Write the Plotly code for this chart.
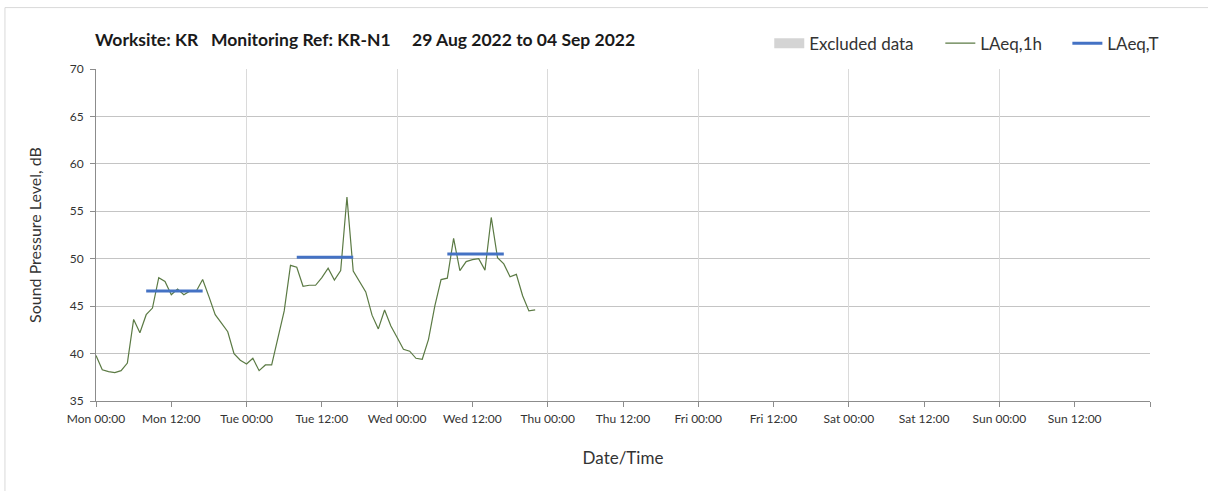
import pandas as pd
import plotly.graph_objects as go

# ---------------- data ----------------
start_time = "2022-08-29 00:00"
laeq_1h = [
    39.8, 38.3, 38.1, 38.0, 38.2, 39.0, 43.6, 42.2, 44.1, 44.8,
    48.0, 47.6, 46.2, 46.8, 46.2, 46.6, 46.6, 47.8, 46.0, 44.1,
    43.2, 42.3, 40.0, 39.3, 38.9, 39.5, 38.2, 38.8, 38.8, 41.5,
    44.5, 49.3, 49.1, 47.1, 47.2, 47.2, 48.0, 49.0, 47.75, 48.75,
    56.5, 48.7, 47.6, 46.5, 44.05, 42.6, 44.6, 42.9, 41.7, 40.45,
    40.25, 39.5, 39.4, 41.5, 45.0, 47.8, 47.95, 52.15, 48.75, 49.7,
    49.9, 50.0, 48.8, 54.35, 50.1, 49.45, 48.1, 48.35, 46.1, 44.5,
    44.6,
]
laeqT_start = ["2022-08-29 08:00", "2022-08-30 08:00", "2022-08-31 08:00"]
laeqT_end = ["2022-08-29 17:00", "2022-08-30 17:00", "2022-08-31 17:00"]
laeqT_values = [46.6, 50.15, 50.5]

x_range = ["2022-08-29 00:00", "2022-09-05 00:00"]
y_range = [35, 70]
y_dtick = 5

title_text = ("Worksite: KR&nbsp;&nbsp;&nbsp;Monitoring Ref: KR-N1"
              "&nbsp;&nbsp;&nbsp;&nbsp;&nbsp;29 Aug 2022 to 04 Sep 2022")

# ---------------- figure ----------------
times_1h = pd.date_range(start_time, periods=len(laeq_1h), freq="h")

tx, ty = [], []
for s, e, v in zip(laeqT_start, laeqT_end, laeqT_values):
    tx += [pd.Timestamp(s), pd.Timestamp(e), None]
    ty += [v, v, None]

W, H = 1208, 491
L, R, T, B = 96, 1149.6, 69.3, 400.7
FONT = "Lato, 'Open Sans', sans-serif"


def px_x(p):
    return (p - L) / (R - L)


def px_y(p):
    return (B - p) / (B - T)


fig = go.Figure()
fig.add_trace(go.Scatter(
    x=[None], y=[None], mode="lines", name="Excluded data", legend="legend",
    line=dict(color="#d4d4d4", width=10), hoverinfo="skip"))
fig.add_trace(go.Scatter(
    x=times_1h, y=laeq_1h, mode="lines", name="LAeq,1h", legend="legend2",
    line=dict(color="#5b7a44", width=1.2)))
fig.add_trace(go.Scatter(
    x=tx, y=ty, mode="lines", name="LAeq,T", legend="legend3",
    line=dict(color="#4472c4", width=3)))

tickvals = pd.date_range(x_range[0], periods=14, freq="12h")

leg_common = dict(orientation="h", xanchor="left", yanchor="middle",
                  y=px_y(44), font=dict(size=17, color="#333333"),
                  bgcolor="rgba(0,0,0,0)", itemwidth=30)

fig.update_layout(
    width=W, height=H,
    margin=dict(l=L, r=W - R, t=T, b=H - B, autoexpand=False),
    paper_bgcolor="white", plot_bgcolor="white",
    font=dict(family=FONT, color="#262626"),
    title=dict(text="<b>" + title_text + "</b>", x=95 / W, xanchor="left",
               y=1 - 40 / H, yanchor="middle", xref="container", yref="container",
               font=dict(size=17.5, color="#1a1a1a", family=FONT)),
    showlegend=True,
    legend=dict(leg_common, x=px_x(776 - 7)),
    legend2=dict(leg_common, x=px_x(946 - 6)),
    legend3=dict(leg_common, x=px_x(1073 - 6)),
    xaxis=dict(
        range=x_range, type="date", tickvals=tickvals, tickformat="%a %H:%M",
        showgrid=False, showline=True, linecolor="#8c8c8c", linewidth=1,
        ticks="outside", ticklen=5, tickcolor="#8c8c8c",
        tickfont=dict(size=12, color="#333333"), ticklabelstandoff=2,
        zeroline=False,
        title=dict(text="Date/Time", font=dict(size=17, color="#333333"), standoff=26),
    ),
    xaxis2=dict(
        range=x_range, type="date", overlaying="x", side="bottom", anchor="y",
        dtick=86400000, tick0=x_range[0], showgrid=True, gridcolor="#dadada",
        gridwidth=1, showticklabels=False, ticks="outside", ticklen=5,
        tickcolor="#8c8c8c", showline=False, zeroline=False,
    ),
    yaxis=dict(
        range=y_range, dtick=y_dtick, showgrid=True, gridcolor="#c4c4c4", gridwidth=1,
        showline=True, linecolor="#8c8c8c", linewidth=1,
        ticks="outside", ticklen=5, tickcolor="#8c8c8c",
        tickfont=dict(size=12, color="#333333"), ticklabelstandoff=4,
        zeroline=False,
        title=dict(text="Sound Pressure Level, dB", font=dict(size=16, color="#333333"),
                   standoff=24),
    ),
)

# dummy trace to activate xaxis2 grid
fig.add_trace(go.Scatter(x=[None], y=[None], xaxis="x2", yaxis="y",
                         showlegend=False, hoverinfo="skip"))

# chart-area border
fig.add_shape(type="rect", xref="paper", yref="paper",
              x0=px_x(5), x1=px_x(1230), y0=px_y(510), y1=px_y(8),
              line=dict(color="#d9d9d9", width=1), fillcolor="rgba(0,0,0,0)",
              layer="below")

fig.write_html("out.html", config={"displayModeBar": False},
               post_script="document.body.style.margin='0px';")
